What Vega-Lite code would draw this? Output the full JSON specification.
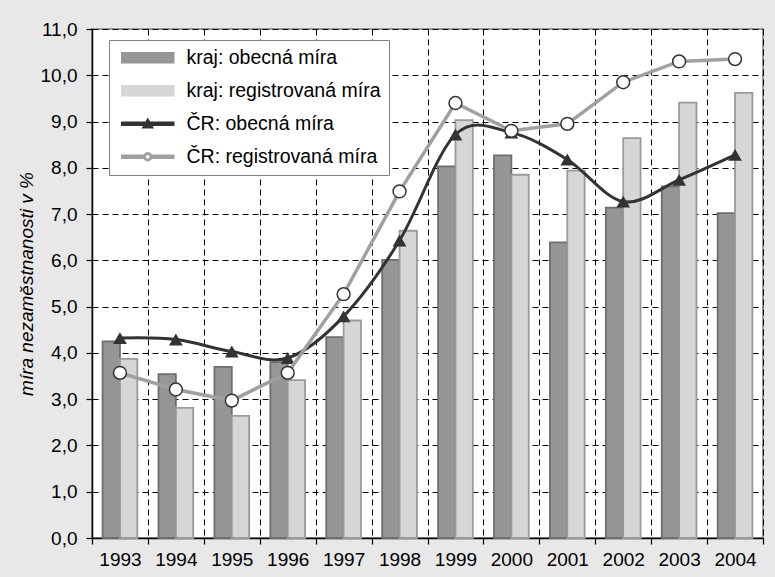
{
  "$schema": "https://vega.github.io/schema/vega-lite/v6.json",
  "width": 671,
  "height": 509,
  "autosize": "none",
  "padding": {"left": 92, "top": 29, "right": 12, "bottom": 39},
  "background": "#e8e8e8",
  "config": {
    "font": "Liberation Sans",
    "view": {"fill": "white", "stroke": "#9a9a9a", "strokeWidth": 2},
    "axis": {
      "labelFont": "Liberation Sans",
      "labelFontSize": 19,
      "labelColor": "black",
      "domainColor": "black",
      "domainWidth": 1.5,
      "tickColor": "black",
      "tickWidth": 1.2,
      "tickSize": 6,
      "grid": true,
      "gridColor": "black",
      "gridDash": [6, 4],
      "gridWidth": 1,
      "gridOpacity": 1
    }
  },
  "datasets": {
    "rows": [
      {"year": "1993", "series": "kraj: obecná míra", "value": 4.25},
      {"year": "1994", "series": "kraj: obecná míra", "value": 3.54},
      {"year": "1995", "series": "kraj: obecná míra", "value": 3.70},
      {"year": "1996", "series": "kraj: obecná míra", "value": 3.80},
      {"year": "1997", "series": "kraj: obecná míra", "value": 4.34},
      {"year": "1998", "series": "kraj: obecná míra", "value": 6.01},
      {"year": "1999", "series": "kraj: obecná míra", "value": 8.03},
      {"year": "2000", "series": "kraj: obecná míra", "value": 8.27},
      {"year": "2001", "series": "kraj: obecná míra", "value": 6.39},
      {"year": "2002", "series": "kraj: obecná míra", "value": 7.14},
      {"year": "2003", "series": "kraj: obecná míra", "value": 7.60},
      {"year": "2004", "series": "kraj: obecná míra", "value": 7.02},
      {"year": "1993", "series": "kraj: registrovaná míra", "value": 3.87},
      {"year": "1994", "series": "kraj: registrovaná míra", "value": 2.81},
      {"year": "1995", "series": "kraj: registrovaná míra", "value": 2.64},
      {"year": "1996", "series": "kraj: registrovaná míra", "value": 3.41},
      {"year": "1997", "series": "kraj: registrovaná míra", "value": 4.70},
      {"year": "1998", "series": "kraj: registrovaná míra", "value": 6.64},
      {"year": "1999", "series": "kraj: registrovaná míra", "value": 9.03},
      {"year": "2000", "series": "kraj: registrovaná míra", "value": 7.85},
      {"year": "2001", "series": "kraj: registrovaná míra", "value": 7.94},
      {"year": "2002", "series": "kraj: registrovaná míra", "value": 8.64},
      {"year": "2003", "series": "kraj: registrovaná míra", "value": 9.41},
      {"year": "2004", "series": "kraj: registrovaná míra", "value": 9.62},
      {"year": "1993", "series": "ČR: obecná míra", "value": 4.32},
      {"year": "1994", "series": "ČR: obecná míra", "value": 4.29},
      {"year": "1995", "series": "ČR: obecná míra", "value": 4.03},
      {"year": "1996", "series": "ČR: obecná míra", "value": 3.89},
      {"year": "1997", "series": "ČR: obecná míra", "value": 4.79},
      {"year": "1998", "series": "ČR: obecná míra", "value": 6.43},
      {"year": "1999", "series": "ČR: obecná míra", "value": 8.72},
      {"year": "2000", "series": "ČR: obecná míra", "value": 8.76},
      {"year": "2001", "series": "ČR: obecná míra", "value": 8.18},
      {"year": "2002", "series": "ČR: obecná míra", "value": 7.27},
      {"year": "2003", "series": "ČR: obecná míra", "value": 7.74},
      {"year": "2004", "series": "ČR: obecná míra", "value": 8.28},
      {"year": "1993", "series": "ČR: registrovaná míra", "value": 3.57},
      {"year": "1994", "series": "ČR: registrovaná míra", "value": 3.21},
      {"year": "1995", "series": "ČR: registrovaná míra", "value": 2.97},
      {"year": "1996", "series": "ČR: registrovaná míra", "value": 3.57},
      {"year": "1997", "series": "ČR: registrovaná míra", "value": 5.27},
      {"year": "1998", "series": "ČR: registrovaná míra", "value": 7.49},
      {"year": "1999", "series": "ČR: registrovaná míra", "value": 9.40},
      {"year": "2000", "series": "ČR: registrovaná míra", "value": 8.80},
      {"year": "2001", "series": "ČR: registrovaná míra", "value": 8.95},
      {"year": "2002", "series": "ČR: registrovaná míra", "value": 9.85},
      {"year": "2003", "series": "ČR: registrovaná míra", "value": 10.30},
      {"year": "2004", "series": "ČR: registrovaná míra", "value": 10.35}
    ]
  },
  "data": {"name": "rows"},
  "encoding": {
    "x": {
      "field": "year",
      "type": "nominal",
      "scale": {"paddingInner": 0, "paddingOuter": 0},
      "axis": {"title": null, "labelAngle": 0, "tickBand": "extent", "labelPadding": 6}
    },
    "y": {
      "field": "value",
      "type": "quantitative",
      "scale": {"domain": [0, 11], "nice": false},
      "axis": {
        "values": [0, 1, 2, 3, 4, 5, 6, 7, 8, 9, 10, 11],
        "labelExpr": "replace(format(datum.value, '.1f'), '.', ',')",
        "labelPadding": 9,
        "title": "míra nezaměstnanosti v %",
        "titleFont": "Liberation Sans",
        "titleFontSize": 19,
        "titleFontStyle": "italic",
        "titleFontWeight": "normal",
        "titleColor": "black",
        "titlePadding": 4
      }
    }
  },
  "layer": [
    {
      "transform": [{"filter": "indexof(datum.series, 'kraj') === 0"}],
      "mark": {"type": "bar", "strokeWidth": 1.8, "strokeOpacity": 1},
      "encoding": {
        "xOffset": {"field": "series", "type": "nominal", "scale": {"paddingInner": 0, "paddingOuter": 0.61}},
        "color": {
          "field": "series",
          "type": "nominal",
          "scale": {
            "domain": ["kraj: obecná míra", "kraj: registrovaná míra", "ČR: obecná míra", "ČR: registrovaná míra"],
            "range": ["#969696", "#d6d6d6", "#333333", "#a0a0a0"]
          },
          "legend": {
            "orient": "none", "legendX": 17, "legendY": 11, "title": null, "padding": 8, "rowPadding": 12,
            "labelFont": "Liberation Sans", "labelFontSize": 19.5, "labelColor": "black", "labelOffset": 50, "labelLimit": 400,
            "symbolSize": 100, "symbolOpacity": 1, "fillColor": "white", "strokeColor": "#808080",
            "encode": {"symbols": {"update": {
              "shape": {"signal": "indexof(datum.value, 'kraj') === 0 ? 'M-1,-1H9.4V1H-1Z' : datum.value === 'ČR: obecná míra' ? 'M-1,-0.3H9.4V0.3H-1Z M3.2,0.8L4.2,-0.95L5.2,0.8Z' : 'M-1,-0.28H3.4V0.28H-1Z M5,-0.28H9.4V0.28H5Z M5,0L4.89,0.4L4.6,0.69L4.2,0.8L3.8,0.69L3.51,0.4L3.4,0L3.51,-0.4L3.8,-0.69L4.2,-0.8L4.6,-0.69L4.89,-0.4Z M4.72,0L4.65,-0.26L4.46,-0.45L4.2,-0.52L3.94,-0.45L3.75,-0.26L3.68,0L3.75,0.26L3.94,0.45L4.2,0.52L4.46,0.45L4.65,0.26Z'"},
              "opacity": {"value": 1}, "fillOpacity": {"value": 1}, "strokeOpacity": {"value": 1}, "size": {"value": 100}
            }}}
          }
        },
        "stroke": {
          "condition": {"test": "datum.series === 'kraj: obecná míra'", "value": "#6e6e6e"},
          "value": "#9a9a9a"
        }
      }
    },
    {
      "transform": [{"filter": "datum.series === 'ČR: obecná míra'"}],
      "mark": {"type": "line", "interpolate": "cardinal", "strokeWidth": 3},
      "encoding": {"color": {
        "field": "series", "type": "nominal",
        "legend": {
          "orient": "none", "legendX": 17, "legendY": 11, "title": null, "padding": 8, "rowPadding": 12,
          "labelFont": "Liberation Sans", "labelFontSize": 19.5, "labelColor": "black", "labelOffset": 50, "labelLimit": 400,
          "symbolSize": 100, "symbolOpacity": 1, "fillColor": "white", "strokeColor": "#808080",
          "encode": {"symbols": {"update": {
            "shape": {"signal": "indexof(datum.value, 'kraj') === 0 ? 'M-1,-1H9.4V1H-1Z' : datum.value === 'ČR: obecná míra' ? 'M-1,-0.3H9.4V0.3H-1Z M3.2,0.8L4.2,-0.95L5.2,0.8Z' : 'M-1,-0.28H3.4V0.28H-1Z M5,-0.28H9.4V0.28H5Z M5,0L4.89,0.4L4.6,0.69L4.2,0.8L3.8,0.69L3.51,0.4L3.4,0L3.51,-0.4L3.8,-0.69L4.2,-0.8L4.6,-0.69L4.89,-0.4Z M4.72,0L4.65,-0.26L4.46,-0.45L4.2,-0.52L3.94,-0.45L3.75,-0.26L3.68,0L3.75,0.26L3.94,0.45L4.2,0.52L4.46,0.45L4.65,0.26Z'"},
            "opacity": {"value": 1}, "fillOpacity": {"value": 1}, "strokeOpacity": {"value": 1}, "size": {"value": 100}
          }}}
        }
      }}
    },
    {
      "transform": [{"filter": "datum.series === 'ČR: obecná míra'"}],
      "mark": {"type": "point", "shape": "triangle-up", "filled": true, "color": "#333333", "size": 190, "opacity": 1}
    },
    {
      "transform": [{"filter": "datum.series === 'ČR: registrovaná míra'"}],
      "mark": {"type": "line", "strokeWidth": 3.5},
      "encoding": {"color": {
        "field": "series", "type": "nominal",
        "legend": {
          "orient": "none", "legendX": 17, "legendY": 11, "title": null, "padding": 8, "rowPadding": 12,
          "labelFont": "Liberation Sans", "labelFontSize": 19.5, "labelColor": "black", "labelOffset": 50, "labelLimit": 400,
          "symbolSize": 100, "symbolOpacity": 1, "fillColor": "white", "strokeColor": "#808080",
          "encode": {"symbols": {"update": {
            "shape": {"signal": "indexof(datum.value, 'kraj') === 0 ? 'M-1,-1H9.4V1H-1Z' : datum.value === 'ČR: obecná míra' ? 'M-1,-0.3H9.4V0.3H-1Z M3.2,0.8L4.2,-0.95L5.2,0.8Z' : 'M-1,-0.28H3.4V0.28H-1Z M5,-0.28H9.4V0.28H5Z M5,0L4.89,0.4L4.6,0.69L4.2,0.8L3.8,0.69L3.51,0.4L3.4,0L3.51,-0.4L3.8,-0.69L4.2,-0.8L4.6,-0.69L4.89,-0.4Z M4.72,0L4.65,-0.26L4.46,-0.45L4.2,-0.52L3.94,-0.45L3.75,-0.26L3.68,0L3.75,0.26L3.94,0.45L4.2,0.52L4.46,0.45L4.65,0.26Z'"},
            "opacity": {"value": 1}, "fillOpacity": {"value": 1}, "strokeOpacity": {"value": 1}, "size": {"value": 100}
          }}}
        }
      }}
    },
    {
      "transform": [{"filter": "datum.series === 'ČR: registrovaná míra'"}],
      "mark": {"type": "point", "shape": "circle", "filled": true, "fill": "white", "stroke": "#333333", "strokeWidth": 1.5, "size": 165, "opacity": 1}
    }
  ]
}
